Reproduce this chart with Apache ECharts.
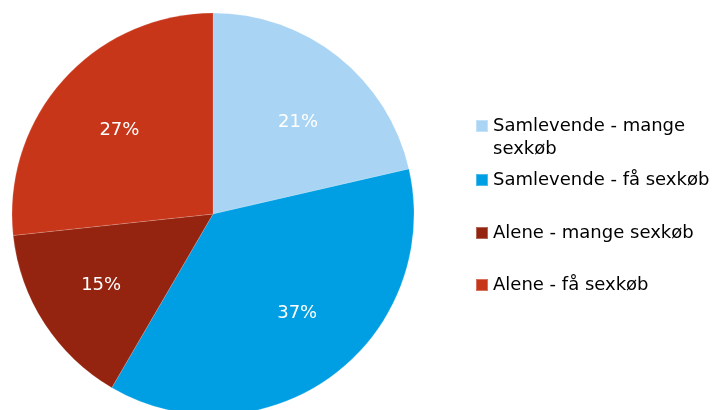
<!DOCTYPE html>
<html>
<head>
<meta charset="utf-8">
<script src="https://cdn.jsdelivr.net/npm/echarts@6/dist/echarts.min.js"></script>
<style>
  html, body { margin: 0; padding: 0; background: #fff; }
  #chart { width: 716px; height: 410px; }
</style>
</head>
<body>
<div id="chart"></div>
<script>
const categories = ['Samlevende - mange sexkøb', 'Samlevende - få sexkøb', 'Alene - mange sexkøb', 'Alene - få sexkøb']
// leading blank line keeps the icon on the first text line of the wrapped item
const legendText = ['\nSamlevende - mange\nsexkøb', 'Samlevende - få sexkøb', 'Alene - mange sexkøb', 'Alene - få sexkøb']
const shares = [21.4, 37.0, 14.9, 26.7]
const colors = ['#A9D4F4', '#009FE3', '#94240F', '#C8361A']

const font = 'Verdana, "DejaVu Sans", sans-serif'
const legendTops = [91.5, 168.5, 221.5, 273.5]
// small nudges so the percent labels sit where the picture has them
const labelNudge = [[5, 9], [8, -4], [-4, 1], [2, 2]]

const pieData = categories.map((name, i) => ({
  name: name,
  value: shares[i],
  itemStyle: { color: colors[i] }
}))

// one legend per item so the vertical spacing can follow the picture
const legends = categories.map((name, i) => ({
  data: [name],
  orient: 'vertical',
  left: 475,
  top: legendTops[i],
  padding: 0,
  itemWidth: 12,
  itemHeight: 12,
  itemGap: 0,
  icon: 'rect',
  selectedMode: false,
  formatter: () => legendText[i],
  textStyle: {
    fontFamily: font,
    fontSize: 18,
    color: '#000',
    lineHeight: 23
  }
}))

const option = {
  animation: false,
  legend: legends,
  series: [
    {
      type: 'pie',
      center: [213, 214],
      radius: 201,
      startAngle: 90,
      clockwise: true,
      silent: true,
      label: { show: false },
      labelLine: { show: false },
      itemStyle: { borderColor: 'rgba(255,255,255,0.3)', borderWidth: 0.5 },
      data: pieData
    },
    {
      // transparent copy only used to place the percent labels further out
      type: 'pie',
      center: [213, 214],
      radius: [50, 201],
      startAngle: 90,
      clockwise: true,
      silent: true,
      legendHoverLink: false,
      itemStyle: { color: 'transparent' },
      label: {
        show: true,
        position: 'inside',
        formatter: p => Math.round(p.value) + '%',
        fontFamily: font,
        fontSize: 18,
        color: '#fff'
      },
      labelLine: { show: false },
      data: categories.map((name, i) => ({
        name: name,
        value: shares[i],
        itemStyle: { color: 'transparent' },
        label: { offset: labelNudge[i] }
      }))
    }
  ]
}

const myChart = echarts.init(document.getElementById('chart'))
myChart.setOption(option)
</script>
</body>
</html>
